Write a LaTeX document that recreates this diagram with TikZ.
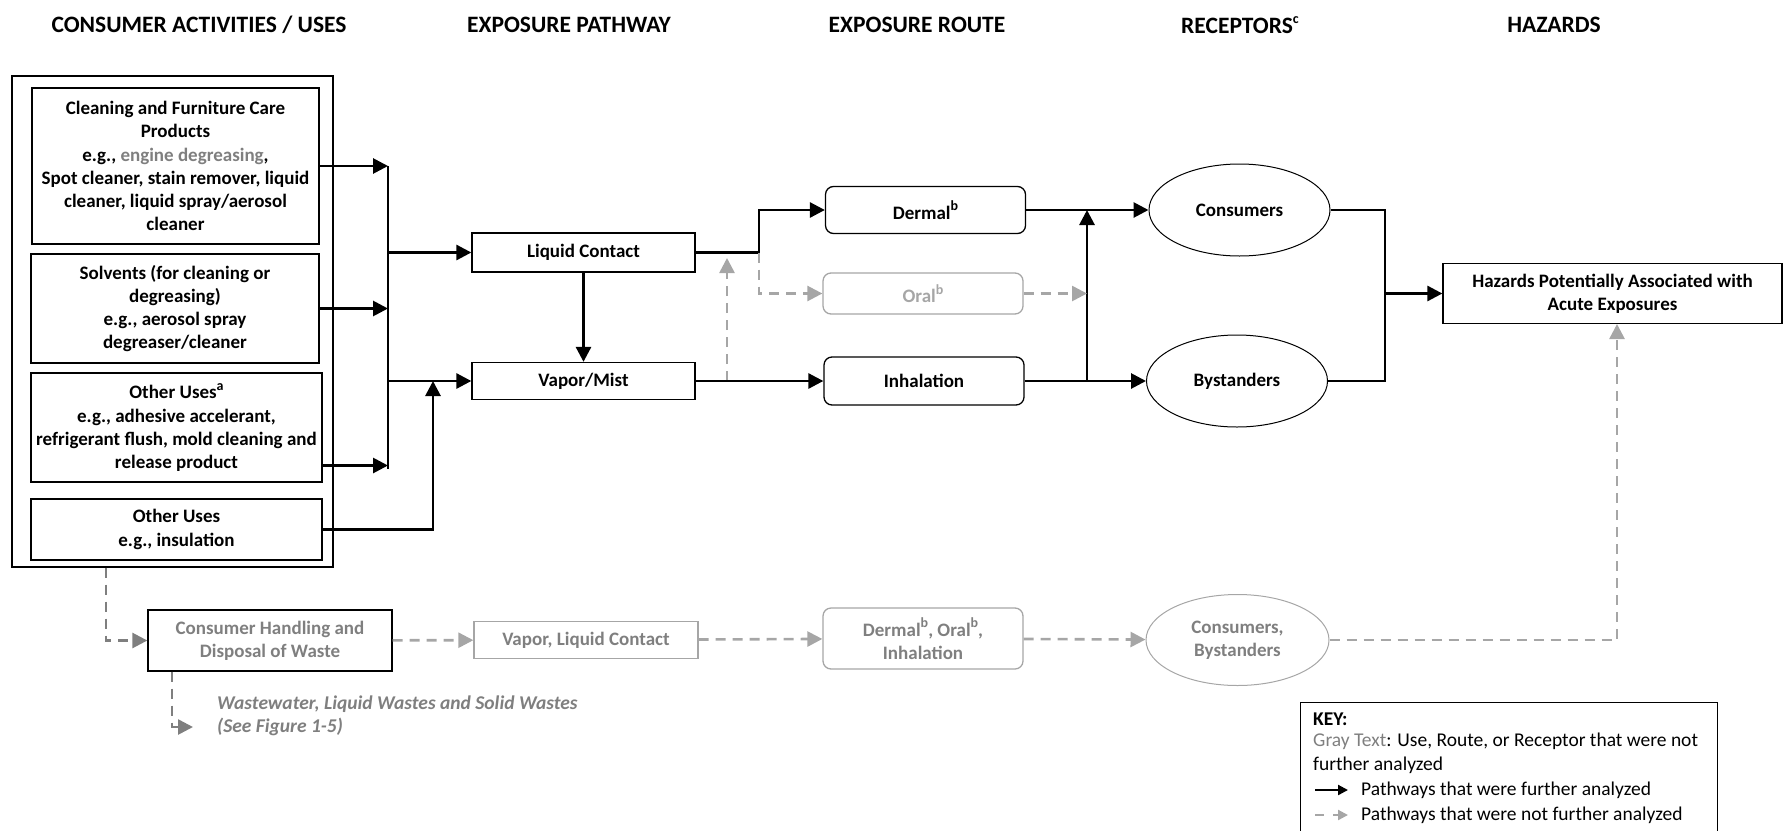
\documentclass[tikz,border=0pt]{standalone}
\usepackage{fontspec}
\setmainfont{Carlito}
\usetikzlibrary{arrows.meta,shapes.geometric,positioning}
\definecolor{txtgray}{HTML}{7F7F7F}
\definecolor{linegray}{HTML}{A6A6A6}
\newcommand{\supr}[1]{\raisebox{0.45em}{\fontsize{14}{14}\selectfont #1}}

\begin{document}
\begin{tikzpicture}[x=1pt,y=-1pt,
    font=\fontsize{19}{23.2}\selectfont\bfseries,
    header/.style={font=\fontsize{23.5}{27}\selectfont\bfseries},
    usebox/.style={draw, line width=1.3pt, align=center, inner sep=0pt},
    routebox/.style={draw, rounded corners=8pt, line width=1.3pt, align=center, inner sep=0pt, minimum width=200pt},
    recep/.style={draw, ellipse, line width=1pt, align=center, inner sep=0pt, minimum width=181pt, minimum height=92pt},
    graybox/.style={draw=linegray, text=txtgray},
    bus/.style={line width=2.8pt},
    flow/.style={line width=2.8pt, -{Triangle[length=15pt,width=15pt]}},
    noflow/.style={line width=2.6pt, draw=linegray, dash pattern=on 10pt off 7pt, -{Triangle[length=15pt,width=15pt]}},
    noflowdk/.style={noflow, draw=txtgray},
    keytxt/.style={font=\fontsize{19.5}{24}\selectfont\mdseries, anchor=west, inner sep=0pt}]

    \useasboundingbox (0,0) rectangle (1784,830);

    \foreach \n/\x/\t in {huses/199/{CONSUMER ACTIVITIES / USES}, hpath/569/{EXPOSURE PATHWAY},
        hroute/917/{EXPOSURE ROUTE}, hrecep/1240/{RECEPTORS\supr{c}}, hhaz/1554/{HAZARDS}} {
        \node[header] (\n) at (\x,25) {\t};
    }

    \node[draw, line width=1.2pt, minimum width=321pt, minimum height=491pt, inner sep=0pt] (uses) at (172.5,321.5) {};
    \node[usebox, minimum width=287pt, minimum height=156pt] (clean) at (175.5,166) {Cleaning and Furniture Care\\Products\\e.g., \textcolor{txtgray}{engine degreasing},\\Spot cleaner, stain remover, liquid\\cleaner, liquid spray/aerosol\\cleaner};
    \node[usebox, minimum width=288pt, minimum height=109pt] (solv) at (175,308.5) {Solvents (for cleaning or\\degreasing)\\e.g., aerosol spray\\degreaser/cleaner};
    \node[usebox, minimum width=291pt, minimum height=109pt] (other) at (176.5,427.5) {Other Uses\supr{a}\\e.g., adhesive accelerant,\\refrigerant flush, mold cleaning and\\release product};
    \node[usebox, minimum width=291pt, minimum height=61pt] (insul) at (176.5,529.5) {Other Uses\\e.g., insulation};

    \node[usebox, minimum width=223pt, minimum height=39pt] (liquid) at (583.5,252.5) {Liquid Contact};
    \node[usebox, minimum width=223pt, minimum height=37pt] (vapor) at (583.5,381) {Vapor/Mist};

    \node[routebox, minimum height=47pt] (dermal) at (925.5,210) {Dermal\supr{b}};
    \node[routebox, draw=linegray, text=linegray, minimum height=41pt] (oral) at (923,293.5) {Oral\supr{b}};
    \node[routebox, minimum height=48pt] (inhal) at (924,381) {Inhalation};

    \node[recep] (consum) at (1239.5,210) {Consumers};
    \node[recep] (bystand) at (1237,381) {Bystanders};

    \node[usebox, minimum width=339pt, minimum height=60pt] (hazard) at (1612.5,293.5) {Hazards Potentially Associated with\\Acute Exposures};

    \node[usebox, text=txtgray, minimum width=244pt, minimum height=61pt] (handle) at (270,640.5) {Consumer Handling and\\Disposal of Waste};
    \node[usebox, graybox, minimum width=224pt, minimum height=37pt] (vlc) at (586,640) {Vapor, Liquid Contact};
    \node[routebox, graybox, minimum height=61pt] (doi) at (923,638.5) {Dermal\supr{b}, Oral\supr{b},\\Inhalation};
    \node[recep, graybox, minimum width=183pt, minimum height=91pt] (cb) at (1237.5,640) {Consumers,\\Bystanders};
    \node[font=\fontsize{19.5}{23.2}\selectfont\bfseries\itshape, text=txtgray, align=left, anchor=west, inner sep=0pt] (waste) at (217,715.5) {Wastewater, Liquid Wastes and Solid Wastes\\(See Figure 1-5)};

    \coordinate (busT) at (388,166);
    \coordinate (busB) at (388,469);
    \draw[bus] (busT) -- (busB);
    \draw[flow] (clean.east) -- (clean.east -| busT);
    \draw[flow] (solv.east) -- (solv.east -| busT);
    \draw[flow] ([yshift=-38pt]other.east) -- ([yshift=-38pt]other.east -| busT);
    \draw[flow] (busT |- liquid.west) -- (liquid.west);
    \draw[flow] (busT |- vapor.west) -- (vapor.west);
    \coordinate (insulJoin) at (433,381);
    \draw[flow] (insul.east) -| (insulJoin);

    \draw[flow] (liquid) -- (vapor);
    \coordinate (split) at (759,252.5);
    \draw[flow] (liquid.east) -- (split) |- (dermal.west);
    \draw[noflow] (split) |- (oral.west);
    \coordinate (backUp) at (727,381);
    \coordinate (backTip) at (727,258);
    \draw[noflow] (backUp) -- (backTip);
    \draw[flow] (vapor) -- (inhal);

    \draw[flow] (dermal) -- (consum);
    \coordinate (merge) at (1087,210);
    \draw[flow] (merge |- inhal.east) -- (merge);
    \draw[noflow] (oral.east) -- (oral.east -| merge);
    \draw[flow] (inhal) -- (bystand);

    \coordinate (hazBus) at (1385,293.5);
    \draw[bus] (consum.east) -| (hazBus |- bystand.east) -- (bystand.east);
    \draw[flow] (hazBus) -- (hazard.west);

    \draw[noflowdk] ([xshift=-66.5pt]uses.south) |- (handle.west);
    \coordinate (wasteTip) at (193,727);
    \draw[noflowdk] ([xshift=-98pt]handle.south) |- (wasteTip);
    \draw[noflow] (handle) -- (vlc);
    \draw[noflow] (vlc) -- (doi);
    \draw[noflow] (doi) -- (cb);
    \coordinate (hazIn) at (1617,324);
    \draw[noflow] (cb.east) -| (hazIn);

    \node[draw, line width=1.2pt, minimum width=417pt, minimum height=140pt, inner sep=0pt, anchor=north west] (keybox) at (1300,702) {};
    \node[keytxt] (keyhead) at (1313,719) {\textbf{KEY:}};
    \node[keytxt, align=left] (keygray) at (1313,753) {\textcolor{txtgray}{Gray Text}: Use, Route, or Receptor that were not\\further analyzed};
    \coordinate (keyS1) at (1315,790);
    \coordinate (keyE1) at (1348,790);
    \draw[line width=2.2pt, -{Triangle[length=10pt,width=10pt]}] (keyS1) -- (keyE1);
    \node[keytxt] (keyyes) at (1361,790) {Pathways that were further analyzed};
    \coordinate (keyS2) at (1315,815);
    \coordinate (keyE2) at (1348,815);
    \draw[line width=2.2pt, draw=linegray, dash pattern=on 9pt off 9pt, -{Triangle[length=10pt,width=10pt]}] (keyS2) -- (keyE2);
    \node[keytxt] (keyno) at (1361,815) {Pathways that were not further analyzed};
\end{tikzpicture}
\end{document}
